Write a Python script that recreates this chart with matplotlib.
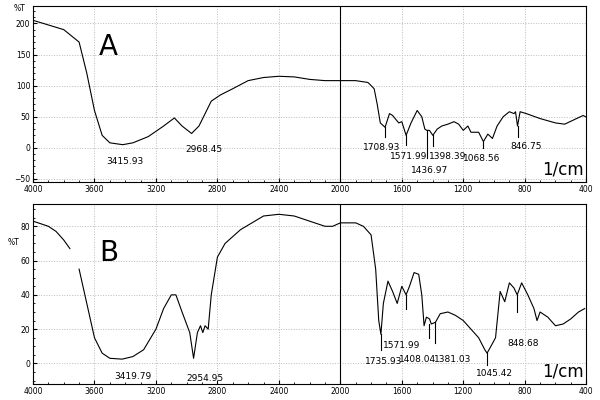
import matplotlib.pyplot as plt

# spectrum A (wavenumber, %T)
wn_a = [4000, 3800, 3700, 3650, 3600, 3550, 3500, 3416, 3350, 3250, 3150, 3080, 3030, 2968, 2920,
        2880, 2840, 2780, 2700, 2600, 2500, 2400, 2300, 2200, 2100, 2000, 1900, 1820, 1780, 1760,
        1740, 1709, 1680, 1660, 1620, 1600, 1572, 1540, 1500, 1470, 1450, 1437, 1420, 1398, 1370,
        1340, 1300, 1260, 1230, 1200, 1170, 1150, 1100, 1069, 1040, 1010, 980, 940, 900, 870, 860,
        847, 830, 790, 700, 600, 540, 480, 420, 405]
t_a = [205, 190, 170, 120, 60, 20, 8, 5, 8, 18, 35, 48, 35, 23, 35,
       55, 75, 85, 95, 108, 113, 115, 114, 110, 108, 108, 108, 105, 95, 70,
       40, 33, 55, 52, 40, 42, 20, 40, 60, 50, 30, 28, 28, 20, 30,
       35, 38, 42, 38, 28, 35, 25, 25, 10, 22, 15, 35, 50, 58, 55, 58,
       35, 58, 55, 47, 40, 38, 45, 52, 50]

# spectrum B
wn_b = [4000, 3900, 3850, 3800, 3760, None, 3700, 3650, 3600, 3550, 3500, 3420, 3350, 3280, 3200,
        3150, 3100, 3070, 3030, 2980, 2955, 2930, 2910, 2895, 2880, 2860, 2840, 2800, 2750, 2650,
        2500, 2400, 2300, 2200, 2100, 2050, 2000, 1900, 1850, 1800, 1770, 1750, 1736, 1720, 1690,
        1660, 1630, 1600, 1572, 1550, 1520, 1490, 1470, 1455, 1440, 1420, 1408, 1381, 1350, 1300,
        1250, 1200, 1150, 1100, 1060, 1045, 1020, 990, 960, 930, 900, 870, 849, 820, 780, 740,
        720, 700, 650, 600, 550, 500, 450, 410]
t_b = [83, 80, 77, 72, 67, None, 55, 35, 15, 6, 3, 2.5, 4, 8, 20,
       32, 40, 40, 30, 18, 3, 18, 22, 18, 22, 20, 40, 62, 70, 78,
       86, 87, 86, 83, 80, 80, 82, 82, 80, 75, 55, 25, 17, 35, 48,
       42, 35, 45, 40, 45, 53, 52, 40, 22, 27, 26, 23, 24, 29, 30,
       28, 25, 20, 15, 8, 6, 10, 15, 42, 36, 47, 44, 40, 47, 40, 32,
       25, 30, 27, 22, 23, 26, 30, 32]

# peak labels: (label, tick x, tick top, tick bottom, label x, label y)
peaks_a = [("3415.93", 3416, None, None, 3400, -15), ("2968.45", 2968, None, None, 2890, 5),
           ("1708.93", 1709, 33, 18, 1730, 8), ("1571.99", 1572, 20, 5, 1555, -7),
           ("1436.97", 1437, 28, -17, 1420, -30), ("1398.39", 1398, 20, 3, 1300, -7),
           ("1068.56", 1069, 10, 0, 1080, -10), ("846.75", 847, 35, 18, 790, 10)]
peaks_b = [("3419.79", 3419, None, None, 3350, -5), ("2954.95", 2955, None, None, 2880, -6),
           ("1735.93", 1736, 17, 8, 1720, 4), ("1571.99", 1572, 40, 32, 1600, 13),
           ("1408.04", 1420, 23, 15, 1500, 5), ("1381.03", 1381, 24, 12, 1270, 5),
           ("1045.42", 1045, 6, -1, 1000, -3), ("848.68", 849, 40, 30, 810, 14)]

fig = plt.figure(figsize=(6, 4), dpi=100)
axA = fig.add_axes([0.055, 0.545, 0.922, 0.44])
axB = fig.add_axes([0.055, 0.04, 0.922, 0.45])


def style(ax, ylim, yticks):
    ax.set_xlim(4000, 400)
    ax.set_ylim(*ylim)
    ax.set_xticks(range(4000, 399, -400))
    ax.set_yticks(yticks)
    ax.minorticks_on()
    ax.tick_params(labelsize=5.5, length=3, direction='in', pad=2)
    ax.tick_params(which='minor', length=1.5, direction='in')
    ax.grid(True, linestyle=':', color='#bbbbbb', linewidth=0.7)
    ax.axvline(2000, color='black', linewidth=0.8)
    ax.text(0.995, 0.02, "1/cm", transform=ax.transAxes, ha='right', va='bottom', fontsize=12)


style(axA, (-55, 228), [-50, 0, 50, 100, 150, 200])
axA.plot(wn_a, t_a, color='black', linewidth=0.8)
axA.text(3570, 150, "A", fontsize=20)
axA.text(-0.035, 0.97, "%T", transform=axA.transAxes, fontsize=5.5)
for lab, x, y0, y1, tx, ty in peaks_a:
    if y0 is not None:
        axA.plot([x, x], [y0, y1], color='black', linewidth=0.8)
    axA.text(tx, ty, lab, fontsize=6.5, ha='center', va='top')

wb = [w if w is not None else float('nan') for w in wn_b]
tb = [t if t is not None else float('nan') for t in t_b]
style(axB, (-12, 93), [0, 20, 40, 60, 80])
axB.plot(wb, tb, color='black', linewidth=0.8)
axB.text(3570, 60, "B", fontsize=20)
axB.text(-0.045, 0.77, "%T", transform=axB.transAxes, fontsize=5.5)
for lab, x, y0, y1, tx, ty in peaks_b:
    if y0 is not None:
        axB.plot([x, x], [y0, y1], color='black', linewidth=0.8)
    axB.text(tx, ty, lab, fontsize=6.5, ha='center', va='top')

fig.savefig("out.png", dpi=100)
